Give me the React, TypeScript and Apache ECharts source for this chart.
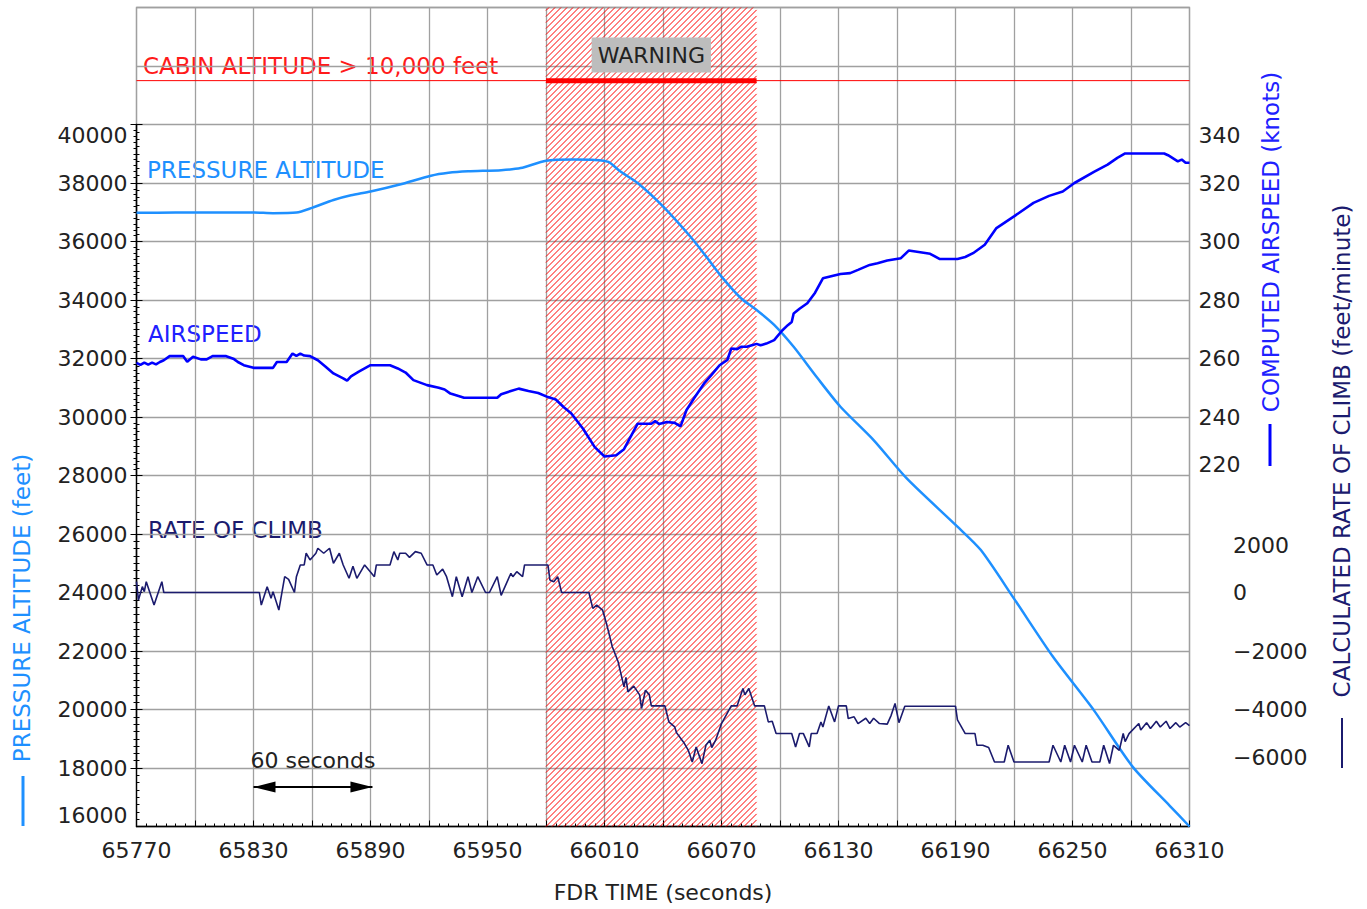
import React, { useEffect, useRef } from "react";
import * as echarts from "echarts";

// ---------- data ----------
const T0 = 65770; // FDR time at left edge (seconds)
const T1 = 66310; // FDR time at right edge

const paTime = [65770, 65790, 65810, 65830, 65840, 65852, 65860, 65871, 65880, 65890, 65905, 65921, 65930, 65940, 65957, 65967, 65980, 65994, 66005, 66012, 66018, 66027, 66040, 66054, 66062, 66070, 66080, 66088, 66097, 66107, 66119, 66131, 66148, 66165, 66191, 66203, 66220, 66240, 66261, 66281, 66300, 66310];
const paAlt = [36980, 36990, 36990, 36990, 36970, 36990, 37150, 37420, 37580, 37710, 37950, 38250, 38350, 38400, 38440, 38510, 38760, 38800, 38790, 38720, 38400, 38000, 37200, 36170, 35500, 34800, 34060, 33660, 33150, 32400, 31350, 30350, 29210, 27900, 26250, 25450, 23790, 21800, 19970, 18030, 16700, 16000];

const asTime = [65770, 65772, 65774, 65776, 65778, 65780, 65782, 65784, 65787, 65794, 65796, 65799, 65803, 65806, 65809, 65816, 65820, 65822, 65825, 65830, 65840, 65842, 65847, 65850, 65852, 65854, 65856, 65859, 65863, 65867, 65871, 65876, 65878, 65880, 65884, 65887, 65890, 65900, 65904, 65908, 65912, 65919, 65925, 65928, 65931, 65938, 65955, 65957, 65962, 65966, 65971, 65976, 65981, 65985, 65989, 65993, 65999, 66005, 66010, 66016, 66020, 66027, 66034, 66036, 66038, 66042, 66046, 66049, 66052, 66056, 66061, 66065, 66069, 66073, 66075, 66078, 66080, 66083, 66086, 66088, 66090, 66093, 66097, 66101, 66104, 66106, 66107, 66110, 66114, 66118, 66122, 66131, 66136, 66140, 66146, 66150, 66155, 66162, 66166, 66177, 66182, 66191, 66195, 66199, 66205, 66211, 66220, 66230, 66238, 66245, 66251, 66261, 66268, 66273, 66277, 66297, 66299, 66304, 66306, 66308, 66310];
const asKnots = [258.5, 257.8, 258.6, 257.9, 258.6, 258.0, 258.8, 259.4, 260.8, 260.8, 258.9, 260.6, 259.7, 259.7, 260.8, 260.8, 259.8, 258.8, 257.7, 256.8, 256.8, 258.8, 258.8, 261.7, 260.9, 261.7, 261.0, 260.8, 259.4, 257.2, 254.9, 253.2, 252.4, 253.9, 255.5, 256.6, 257.7, 257.7, 256.6, 255.2, 252.6, 250.9, 250.0, 249.4, 248.0, 246.6, 246.6, 247.8, 248.9, 249.7, 248.9, 248.2, 246.8, 246.0, 243.4, 241.2, 236.0, 229.7, 226.5, 226.9, 229.0, 237.7, 237.7, 238.6, 237.6, 238.3, 238.0, 236.8, 242.3, 246.5, 251.4, 254.5, 257.7, 259.5, 263.4, 263.2, 264.0, 264.0, 264.6, 265.0, 264.5, 265.1, 266.3, 269.5, 271.4, 272.5, 275.4, 277.0, 278.9, 282.5, 287.4, 288.9, 289.2, 290.3, 292.0, 292.6, 293.5, 294.3, 296.9, 295.8, 294.0, 294.0, 294.7, 296.0, 298.9, 304.6, 308.6, 313.2, 315.6, 317.1, 320.0, 323.8, 326.3, 328.6, 330.1, 330.1, 329.5, 327.4, 328.0, 326.9, 326.9];

const rocTime = [65770, 65771, 65773, 65774, 65775, 65779, 65783, 65784, 65833, 65834, 65837, 65839, 65840, 65843, 65846, 65848, 65851, 65852, 65854, 65856, 65857, 65859, 65862, 65863, 65866, 65869, 65871, 65874, 65876, 65879, 65881, 65883, 65887, 65892, 65893, 65900, 65902, 65904, 65905, 65908, 65910, 65913, 65916, 65919, 65922, 65924, 65927, 65929, 65932, 65934, 65937, 65940, 65942, 65945, 65949, 65951, 65955, 65957, 65962, 65963, 65965, 65968, 65969, 65981, 65982, 65984, 65986, 65988, 66002, 66004, 66006, 66009, 66011, 66014, 66017, 66020, 66021, 66022, 66025, 66028, 66029, 66031, 66033, 66034, 66041, 66043, 66046, 66047, 66051, 66053, 66055, 66057, 66060, 66062, 66064, 66065, 66067, 66070, 66075, 66078, 66081, 66082, 66084, 66087, 66092, 66094, 66096, 66098, 66106, 66108, 66110, 66112, 66115, 66116, 66119, 66121, 66122, 66125, 66128, 66130, 66134, 66135, 66138, 66140, 66144, 66146, 66148, 66151, 66155, 66157, 66159, 66161, 66164, 66190, 66191, 66195, 66200, 66201, 66204, 66207, 66210, 66215, 66217, 66220, 66238, 66240, 66244, 66246, 66249, 66251, 66255, 66257, 66260, 66264, 66266, 66269, 66271, 66274, 66276, 66277, 66279, 66284, 66285, 66288, 66290, 66293, 66295, 66298, 66300, 66303, 66305, 66308, 66310];
const rocFpm = [370, -257, 200, 30, 370, -428, 370, 0, 0, -428, 200, -200, 30, -600, 541, 450, 0, 541, 942, 942, 1342, 1113, 1342, 1513, 1342, 1513, 1000, 1342, 942, 486, 900, 486, 942, 541, 942, 942, 1397, 1113, 1342, 1342, 1200, 1397, 1342, 942, 942, 600, 800, 541, -143, 541, -143, 541, 0, 541, 0, 0, 541, -100, 657, 541, 712, 541, 942, 942, 428, 370, 541, 0, 0, -541, -428, -600, -1055, -1856, -2370, -3226, -2900, -3398, -3200, -3500, -3966, -3340, -3500, -3877, -3877, -4425, -4596, -4800, -5164, -5400, -5794, -5280, -5850, -5223, -5052, -5300, -5050, -4480, -3877, -3877, -3281, -3500, -3281, -3877, -3877, -4425, -4400, -4823, -4823, -5280, -4823, -4823, -5280, -4823, -4823, -4425, -4600, -3877, -4425, -3877, -3877, -4308, -4250, -4480, -4300, -4480, -4300, -4480, -4500, -4200, -3795, -4450, -3887, -3887, -4358, -4822, -4822, -5223, -5223, -5300, -5794, -5794, -5223, -5794, -5794, -5223, -5794, -5223, -5794, -5223, -5794, -5223, -5794, -5794, -5223, -5850, -5223, -5394, -4822, -5100, -4823, -4480, -4700, -4450, -4650, -4400, -4600, -4400, -4650, -4450, -4600, -4450, -4550];

const warningStart = 65980;
const warningEnd = 66088;
const cabinLevel = 41500; // top panel line, on the altitude scale
const scaleBarStart = 65830;
const scaleBarEnd = 65891;
const scaleBarLevel = 17350;

const altTicks = { min: 16000, max: 40000, top: 44000, step: 2000 };
const asTicks = { min: 220, max: 340, step: 20 };
const rocTicks = { min: -6000, max: 2000, step: 2000 };

// ---------- style ----------
const FONT = "DejaVu Sans";
const C_PA = "#1e90ff";
const C_AS = "#0000ff";
const C_ROC = "#1b1b6e";
const C_TXT = "#222222";
const C_GRID = "#a0a0a0";
const FS = 22;
const FT = 23;
const HATCH_GAP = 6;

const L = 136.5, R = 1367 - 1189.5, TOP = 7.5, BOT = 909 - 826.5;

function pairs(t: number[], v: number[]) {
  return t.map((x, i) => [x - T0, v[i]]);
}

const minus = (v: number) => (v < 0 ? "\u2212" + Math.abs(v) : String(v));

function yAxisBase(extra: any) {
  return Object.assign(
    {
      type: "value",
      axisLine: { show: true, lineStyle: { color: "#000", width: 1.3 } },
      axisTick: { show: true, inside: true, length: 6, lineStyle: { color: "#000", width: 1 } },
      minorTick: { show: true, length: 3, lineStyle: { color: "#000", width: 1 } },
      splitLine: { show: false },
      minorSplitLine: { show: false },
      axisLabel: {
        fontSize: FS, color: C_TXT, fontFamily: FONT, margin: 9, formatter: minus,
        verticalAlignMaxLabel: "top", verticalAlignMinLabel: "bottom",
      },
    },
    extra
  );
}

// diagonal hatch (bottom-left to top-right) inside the warning interval
function renderHatch(params: any, api: any) {
  const a = api.coord([api.value(0), altTicks.top]);
  const b = api.coord([api.value(1), altTicks.min]);
  const x0 = a[0], y0 = a[1], x1 = b[0], y1 = b[1];
  const children: any[] = [];
  for (let c = x0 + y0 + HATCH_GAP / 2; c < x1 + y1; c += HATCH_GAP) {
    const xa = Math.max(x0, c - y1);
    const xb = Math.min(x1, c - y0);
    if (xb <= xa) continue;
    children.push({
      type: "line",
      shape: { x1: xa, y1: c - xa, x2: xb, y2: c - xb },
      style: { stroke: "#ff0000", lineWidth: 1 },
      silent: true,
    });
  }
  return { type: "group", children };
}

export default function App() {
  const ref = useRef<HTMLDivElement>(null);
  useEffect(() => {
    if (!ref.current) return;
    const chart = echarts.init(ref.current, undefined, { renderer: "svg" });
    const hiddenX = (gi: number) => ({
      gridIndex: gi, type: "value", min: 0, max: T1 - T0, show: false,
    });
    const option: any = {
      animation: false,
      textStyle: { fontFamily: FONT },
      grid: [
        { left: L, right: R, top: TOP, bottom: BOT, show: true, borderColor: C_GRID, borderWidth: 1.3 },
        { left: L, right: R, top: 124.5, bottom: BOT },
        { left: L, right: R, top: 124.5, bottom: 909 - 475.5 },
        { left: L, right: R, top: 534, bottom: 909 - 768 },
      ],
      xAxis: [
        {
          gridIndex: 0, type: "value", min: 0, max: T1 - T0, interval: 30,
          axisLine: { show: true, lineStyle: { color: "#000", width: 1.3 } },
          axisTick: { show: true, inside: true, length: 6, lineStyle: { color: "#000" } },
          minorTick: { show: true, splitNumber: 6, length: 3, lineStyle: { color: "#000" } },
          splitLine: { show: true, lineStyle: { color: C_GRID, width: 1.3 } },
          axisLabel: {
            formatter: (v: number) => (v % 60 === 0 ? String(v + T0) : ""),
            fontSize: FS, color: C_TXT, margin: 13, fontFamily: FONT,
          },
          name: "FDR TIME (seconds)", nameLocation: "middle", nameGap: 55,
          nameTextStyle: { fontSize: FS, color: C_TXT, fontFamily: FONT },
        },
        hiddenX(1), hiddenX(2), hiddenX(3),
      ],
      yAxis: [
        {
          gridIndex: 0, type: "value", min: altTicks.min, max: altTicks.top, interval: altTicks.step,
          axisLine: { show: false }, axisTick: { show: false }, axisLabel: { show: false },
          splitLine: { show: true, lineStyle: { color: C_GRID, width: 1.3 } },
        },
        yAxisBase({
          gridIndex: 1, position: "left", min: altTicks.min, max: altTicks.max, interval: altTicks.step,
          minorTick: { show: true, splitNumber: 8, length: 3, lineStyle: { color: "#000" } },
        }),
        yAxisBase({
          gridIndex: 2, position: "right", min: asTicks.min, max: asTicks.max, interval: asTicks.step,
          minorTick: { show: true, splitNumber: 10, length: 3, lineStyle: { color: "#000" } },
        }),
        yAxisBase({
          gridIndex: 3, position: "right", offset: 34.5, min: rocTicks.min, max: rocTicks.max, interval: rocTicks.step,
          minorTick: { show: true, splitNumber: 8, length: 3, lineStyle: { color: "#000" } },
        }),
      ],
      series: [
        {
          name: "WARNING PERIOD", type: "custom", xAxisIndex: 0, yAxisIndex: 0, z: 1,
          silent: true, clip: false,
          renderItem: renderHatch,
          data: [[warningStart - T0, warningEnd - T0]],
        },
        {
          name: "CABIN ALTITUDE", type: "line", xAxisIndex: 0, yAxisIndex: 0, z: 2,
          symbol: "none", silent: true,
          lineStyle: { color: "#ff0000", width: 1 },
          data: [[0, cabinLevel], [T1 - T0, cabinLevel]],
          markArea: {
            silent: true,
            itemStyle: { color: "rgba(0,0,0,0)", borderWidth: 0 },
            label: {
              show: true, position: "insideTop", distance: 30, formatter: "WARNING",
              backgroundColor: "#bdbdbd", padding: [6, 6, 5, 6], color: C_TXT,
              fontSize: FS, fontFamily: FONT, lineHeight: 24,
            },
            data: [[{ xAxis: warningStart - T0 }, { xAxis: warningEnd - T0 }]],
          },
          markLine: {
            silent: true, symbol: ["triangle", "triangle"], symbolSize: [11, 22],
            symbolOffset: [[0, 11], [0, 11]],
            lineStyle: { color: "#000", width: 2, type: "solid" },
            itemStyle: { color: "#000" },
            label: {
              show: true, position: "middle", formatter: "60 seconds", color: C_TXT,
              fontSize: FS, fontFamily: FONT, distance: 16,
            },
            data: [[
              { coord: [scaleBarStart - T0, scaleBarLevel] },
              { coord: [scaleBarEnd - T0, scaleBarLevel] },
            ]],
          },
        },
        {
          name: "CABIN WARNING", type: "line", xAxisIndex: 0, yAxisIndex: 0, z: 3,
          symbol: "none", silent: true,
          lineStyle: { color: "#ff0000", width: 5 },
          data: [[warningStart - T0, cabinLevel], [warningEnd - T0, cabinLevel]],
        },
        {
          name: "PRESSURE ALTITUDE", type: "line", xAxisIndex: 1, yAxisIndex: 1, z: 4,
          symbol: "none", clip: false, smooth: 0.25,
          lineStyle: { color: C_PA, width: 2.5 },
          data: pairs(paTime, paAlt),
        },
        {
          name: "AIRSPEED", type: "line", xAxisIndex: 2, yAxisIndex: 2, z: 4,
          symbol: "none", clip: false,
          lineStyle: { color: C_AS, width: 2.6 },
          data: pairs(asTime, asKnots),
        },
        {
          name: "RATE OF CLIMB", type: "line", xAxisIndex: 3, yAxisIndex: 3, z: 4,
          symbol: "none", clip: false,
          lineStyle: { color: C_ROC, width: 1.6 },
          data: pairs(rocTime, rocFpm),
        },
      ],
      graphic: [
        { type: "text", x: 143, y: 66, style: { text: "CABIN ALTITUDE > 10,000 feet", fill: "#ff1a1a", fontSize: FT, fontFamily: FONT, verticalAlign: "middle", align: "left" } },
        { type: "text", x: 147, y: 170, style: { text: "PRESSURE ALTITUDE", fill: C_PA, fontSize: FT, fontFamily: FONT, verticalAlign: "middle", align: "left" } },
        { type: "text", x: 148, y: 334, style: { text: "AIRSPEED", fill: "#2020ff", fontSize: FT, fontFamily: FONT, verticalAlign: "middle", align: "left" } },
        { type: "text", x: 148, y: 530, style: { text: "RATE OF CLIMB", fill: C_ROC, fontSize: FT, fontFamily: FONT, verticalAlign: "middle", align: "left" } },
        { type: "text", x: 22, y: 608, rotation: Math.PI / 2, style: { text: "PRESSURE ALTITUDE (feet)", fill: C_PA, fontSize: FT, fontFamily: FONT, verticalAlign: "middle", align: "center" } },
        { type: "line", shape: { x1: 23, y1: 776, x2: 23, y2: 826 }, style: { stroke: C_PA, lineWidth: 3 } },
        { type: "text", x: 1271, y: 242, rotation: Math.PI / 2, style: { text: "COMPUTED AIRSPEED (knots)", fill: "#2020ff", fontSize: FT, fontFamily: FONT, verticalAlign: "middle", align: "center" } },
        { type: "line", shape: { x1: 1270, y1: 424, x2: 1270, y2: 466 }, style: { stroke: C_AS, lineWidth: 3 } },
        { type: "text", x: 1342, y: 451, rotation: Math.PI / 2, style: { text: "CALCULATED RATE OF CLIMB (feet/minute)", fill: C_ROC, fontSize: FT, fontFamily: FONT, verticalAlign: "middle", align: "center" } },
        { type: "line", shape: { x1: 1342, y1: 718, x2: 1342, y2: 768 }, style: { stroke: C_ROC, lineWidth: 2 } },
      ],
    };
    chart.setOption(option);
    return () => chart.dispose();
  }, []);
  return (
    <div
      ref={ref}
      style={{ position: "absolute", left: 0, top: 0, width: 1367, height: 909, background: "#fff" }}
    />
  );
}
